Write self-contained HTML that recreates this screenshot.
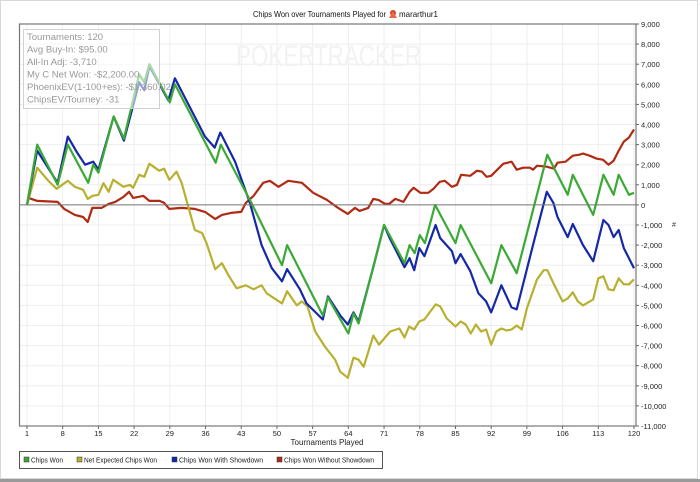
<!DOCTYPE html>
<html><head><meta charset="utf-8"><style>
html,body{margin:0;padding:0;background:#fff;}
svg{display:block;font-family:"Liberation Sans",sans-serif;}
</style></head><body>
<svg id="chart" width="700" height="482" viewBox="0 0 700 482" xmlns="http://www.w3.org/2000/svg">
<rect x="0.5" y="0.5" width="697" height="478" fill="#fff" stroke="#d8d8d8"/>
<rect x="0" y="479" width="700" height="3" fill="#9a9a9a"/>
<text x="253" y="17" font-size="8.5" textLength="133" lengthAdjust="spacingAndGlyphs" fill="#111">Chips Won over Tournaments Played for</text>
<g><circle cx="393" cy="13" r="3" fill="#d9402b"/><path d="M389 18 L397 18 L393 11 Z" fill="#e86a4a"/></g>
<text x="399" y="17" font-size="8.5" textLength="39" lengthAdjust="spacingAndGlyphs" fill="#111">mararthur1</text>
<g id="grid"></g>
<text x="236" y="66" font-size="30" fill="#f2f2f2" textLength="185" lengthAdjust="spacingAndGlyphs">POKERTRACKER</text>
<g id="series"></g>
<line id="zero" x1="19.5" x2="636" stroke="#777" stroke-width="1"/>
<rect x="19.5" y="24" width="616.5" height="402" fill="none" stroke="#777" stroke-width="1.2"/>
<g id="yaxis"></g>
<g id="xaxis"></g>
<text x="672" y="227" font-size="7" fill="#333">#</text>
<text x="327" y="445" font-size="8" text-anchor="middle" fill="#222">Tournaments Played</text>
<g>
<rect x="23.5" y="29.5" width="136" height="79" fill="#fff" fill-opacity="0.55" stroke="#d0d0d0"/>
<g font-size="9.5" fill="#999">
<text x="27" y="40">Tournaments: 120</text>
<text x="27" y="52.5">Avg Buy-In: $95.00</text>
<text x="27" y="65">All-In Adj: -3,710</text>
<text x="27" y="77.5">My C Net Won: -$2,200.00</text>
<text x="27" y="90">PhoenixEV(1-100+es): -$1,360.02</text>
<text x="27" y="102.5">ChipsEV/Tourney: -31</text>
</g></g>
<g>
<rect x="19.5" y="451.5" width="363" height="17" fill="#fff" stroke="#555"/>
<g font-size="7.5" fill="#222">
<g><rect x="24" y="457" width="5" height="5" fill="#3aaa35" stroke="#333" stroke-width="0.5"/><text x="31" y="462.5" textLength="32" lengthAdjust="spacingAndGlyphs">Chips Won</text></g>
<g><rect x="77" y="457" width="5" height="5" fill="#b8b030" stroke="#333" stroke-width="0.5"/><text x="84" y="462.5" textLength="73" lengthAdjust="spacingAndGlyphs">Net Expected Chips Won</text></g>
<g><rect x="172" y="457" width="5" height="5" fill="#1428a8" stroke="#333" stroke-width="0.5"/><text x="179" y="462.5" textLength="84" lengthAdjust="spacingAndGlyphs">Chips Won With Showdown</text></g>
<g><rect x="277" y="457" width="5" height="5" fill="#b02a14" stroke="#333" stroke-width="0.5"/><text x="284" y="462.5" textLength="90" lengthAdjust="spacingAndGlyphs">Chips Won Without Showdown</text></g>
</g></g>
</svg>
<script>
const yTicks=[9000,8000,7000,6000,5000,4000,3000,2000,1000,0,-1000,-2000,-3000,-4000,-5000,-6000,-7000,-8000,-9000,-10000,-11000];
const xTicks=[1,8,15,22,29,36,43,50,57,64,71,78,85,92,99,106,113,120];
const redX=[1,1.3,3,7,8.3,10.4,12,12.9,13.8,15.6,17,18.3,19.9,21,21.8,23.8,25,27,27.9,28.9,31.3,33.9,35.9,37.9,39.2,41,43,43.9,45.4,47.3,48.6,50.3,52.2,54.9,57.1,59.8,61.7,63.9,65.3,66.2,67.9,68.9,69.9,71.2,72,73.2,74.8,76,76.8,78.1,79.7,80.7,81.9,82.9,84.3,85.3,86.1,87.9,89.2,90.2,91.1,92,93.4,94.4,96,97,98.3,99.6,100.2,101,102.9,104.3,105,106.6,108,109.3,110,111.3,112.7,113.9,115,116,116.9,118,119,120];
const redY=[0,350,200,150,-200,-500,-600,-850,-150,-150,50,150,400,650,350,450,200,200,100,-200,-150,-200,-350,-700,-500,-400,-350,100,450,1100,1200,900,1200,1100,600,250,-100,-450,-150,-300,-150,300,250,50,50,300,150,650,850,600,600,800,1150,1200,900,1000,1500,1450,1700,1650,1400,1450,1800,2050,2150,1750,1850,1850,1750,1950,1900,1800,2100,2150,2450,2500,2550,2450,2300,2250,2000,2200,2650,3150,3350,3750];
const yelX=[1,3,5.2,6.8,9,10.4,12,12.9,13.8,15,16,17,17.9,19.9,21.2,21.8,23,24,25,26.9,27.9,28.9,30.3,31.3,33.9,35.3,36.2,37.9,39.2,40.5,42.1,43.9,45.4,47,48,51,52,53.9,54.9,56,57.5,59.4,61.4,62.4,63.9,65,66,67,68.9,70,72.2,74,75,75.9,76.9,77.9,78.9,81.1,82,83.3,85,86,87,88,89,90,91,92,93,94,95,96,97,98,99,101,102.3,103,104.5,106,107,108,109,110,112,113,114,115,116,117,118,119,120];
const yelY=[0,1850,1200,800,1200,900,750,300,450,500,1080,650,1250,900,1000,850,1500,1400,2050,1700,1800,1250,1650,1100,-1250,-1400,-1900,-3200,-2900,-3500,-4150,-4000,-4200,-4000,-4400,-4900,-4300,-5000,-4800,-5050,-6300,-7050,-7700,-8300,-8600,-7600,-7700,-8050,-6500,-6950,-6300,-6150,-6600,-6050,-6200,-5800,-5700,-4950,-5050,-5650,-6050,-5800,-5950,-6400,-5950,-6300,-6200,-6950,-6300,-6150,-6250,-6200,-6000,-6200,-5150,-3700,-3250,-3250,-4050,-4800,-4650,-4350,-4800,-5000,-4700,-3650,-3550,-4200,-4250,-3650,-3950,-3950,-3700];
const bluX=[1,3,7,9,10.7,12.4,14,15,18,20,23,24,25,28.7,30,35.9,37.8,38.9,41.8,44.7,47,49,51,52,54.5,55.8,59,60,62.4,63.9,65,66,68.9,71,72,75,76,76.9,77.9,78.9,81.1,82,84.3,85,86,87.9,89.5,91,92,94,96,97,100.3,102.9,104.2,105,107,108,110,112,114,115,116,117,118,120];
const bluY=[0,2700,1100,3400,2650,2000,2150,1750,4400,3200,6100,5700,6900,5200,6300,3400,2850,3600,2150,100,-2000,-3150,-3800,-3200,-4200,-4900,-5700,-4550,-5500,-5950,-5350,-5800,-3100,-1000,-1600,-3100,-2650,-3250,-2150,-2550,-1000,-1650,-2300,-2900,-2450,-3300,-4400,-4800,-5350,-4000,-5100,-5200,-1900,650,100,-600,-1600,-950,-2000,-2800,-750,-1000,-1600,-1250,-2150,-3150];
const grnX=[1,3,7,9,13,14,15,18,20,23,24,25,29,30,38,39,45,51,52,59,60,64,65,66,71,75,76,77,78,79,81,85,86,92,94,97,103,107,108,112,114,116,117,119,120];
const grnY=[0,3000,1000,3000,1100,2000,1600,4400,3300,6500,6100,7000,5100,6000,2100,3000,100,-3000,-2000,-5500,-4600,-6400,-5400,-5900,-1000,-2900,-2000,-2400,-1500,-1900,0,-1900,-1000,-3900,-2000,-3400,2500,500,1500,-500,1500,500,1500,500,600];

const L=19.5,T=24,R=636,B=426;
const yMax=9000,yMin=-11000,x0=1,x1=120,px0=27,px1=634;
const sy=v=>T+(yMax-v)/(yMax-yMin)*(B-T);
const sx=t=>px0+(t-x0)/(x1-x0)*(px1-px0);
const NS="http://www.w3.org/2000/svg";
const mk=(tag,attrs,parent)=>{const e=document.createElementNS(NS,tag);for(const k in attrs)e.setAttribute(k,attrs[k]);parent.appendChild(e);return e;};
const grid=document.getElementById('grid'),ya=document.getElementById('yaxis'),xa=document.getElementById('xaxis');
yTicks.forEach(v=>{
  const y=sy(v);
  const g=mk('line',{x1:L,x2:R,y1:y,y2:y,stroke:'#eeeeee','stroke-width':1},grid);
  
  
  const tk=mk('line',{x1:R,x2:R+3,y1:y,y2:y,stroke:'#666'},ya);
  
  
  const t=mk('text',{x:R+5,y:y+3,'font-size':7.5,fill:'#222'},ya);
  
  
  t.textContent=v.toLocaleString('en-US');
});
xTicks.forEach(v=>{
  const x=sx(v);
  const g=mk('line',{x1:x,x2:x,y1:T,y2:B,stroke:'#eeeeee','stroke-width':1},grid);
  
  
  const tk=mk('line',{x1:x,x2:x,y1:B,y2:B+3,stroke:'#666'},xa);
  
  
  const t=mk('text',{x:x,y:B+10,'font-size':7.5,fill:'#222','text-anchor':'middle'},xa);
  
  
  t.textContent=v;
});
const z=document.getElementById('zero');z.setAttribute('y1',sy(0));z.setAttribute('y2',sy(0));
const ser=document.getElementById('series');
function line(xs,ys,color,name){
  const pts=xs.map((t,i)=>sx(t).toFixed(1)+','+sy(ys[i]).toFixed(1)).join(' ');
  const p=mk('polyline',{points:pts,fill:'none',stroke:color,'stroke-width':2.2,'stroke-linejoin':'round'},ser);
  
  
}
line(redX,redY,'#b02a14','line-without-showdown');
line(yelX,yelY,'#b8b030','line-net-expected');
line(bluX,bluY,'#1428a8','line-with-showdown');
line(grnX,grnY,'#3aaa35','line-chips-won');
</script>
</body></html>
